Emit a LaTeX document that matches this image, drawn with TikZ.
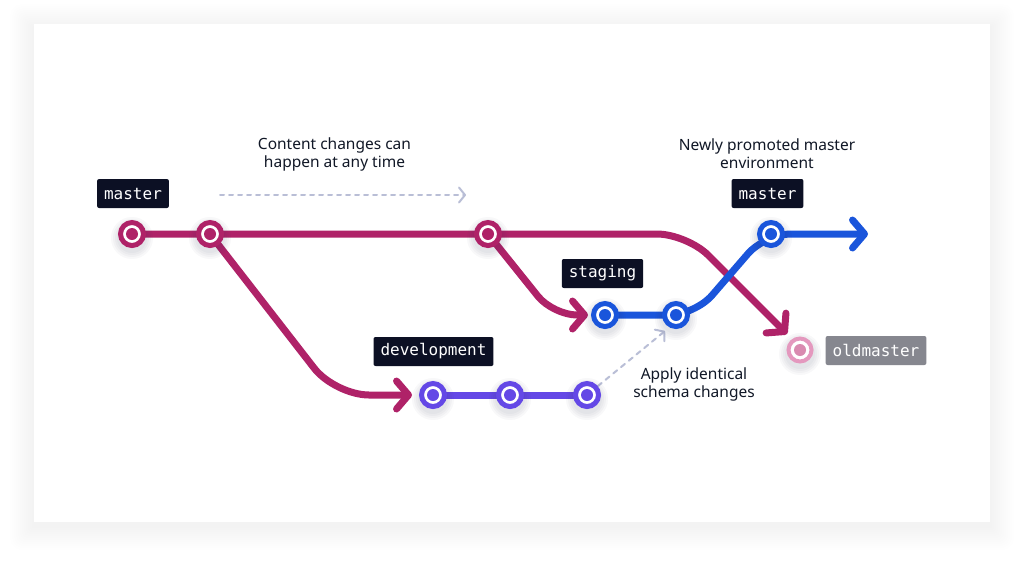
\documentclass[tikz,border=0pt]{standalone}
\usepackage{fontspec}
\setmainfont{Noto Sans}
\newfontfamily\monofont{DejaVu Sans Mono}
\usetikzlibrary{arrows.meta}
\definecolor{mag}{HTML}{AF2268}
\definecolor{blu}{HTML}{1A55DB}
\definecolor{pur}{HTML}{6448E6}
\definecolor{pink}{HTML}{E498BE}
\definecolor{pinkdot}{HTML}{D98AB0}
\definecolor{dark}{HTML}{0C1024}
\definecolor{grayl}{HTML}{86878F}
\definecolor{txt}{HTML}{111827}
\definecolor{hint}{HTML}{B9BED6}
\definecolor{shade}{HTML}{2A3050}
\tikzset{
  branch/.style={line width=7pt, line cap=round, line join=round},
  tipbig/.style={-{Straight Barb[length=12pt,width=28pt,line cap=round,line join=round]}},
  tipsmall/.style={-{Straight Barb[length=6pt,width=15pt,line cap=round,line join=round]}},
  commit/.style={circle, draw=#1, line width=5pt, fill=white, minimum size=23pt, inner sep=0pt,
    path picture={\fill[#1] (path picture bounding box.center) circle (6pt);}},
  tag/.style={fill=#1, text=white, rounded corners=2pt, font=\monofont\fontsize{16}{18}\selectfont,
    minimum height=29pt, inner xsep=7pt, inner ysep=0pt, anchor=center},
  caption/.style={text=txt, align=center, font=\fontsize{15.5}{18}\selectfont},
  hintline/.style={draw=hint, line width=2pt, line cap=round},
  softshade/.style={fill=shade, opacity=#1},
}
\begin{document}
\begin{tikzpicture}[x=1pt,y=-1pt]
\useasboundingbox (0,0) rectangle (1024,565);
\fill[white] (0,0) rectangle (1024,565);
% card shadow
\foreach \i in {1,...,12}
  \fill[softshade=0.004, rounded corners=\i pt] (34-\i*2,24-\i*2+4) rectangle (990+\i*2,522+\i*2+4);
\fill[white] (34,24) rectangle (990,522);

% coordinates
\coordinate (c1) at (687,234);
\coordinate (oldtip) at (787,334);
\coordinate (c2) at (335,395);
\coordinate (devtip) at (412,395);
\coordinate (c3) at (553,315);
\coordinate (stgtip) at (588,315);
\coordinate (c4) at (695,315);
\coordinate (c5) at (765,234);
\coordinate (newtip) at (868,234);
\coordinate (h1) at (220,195);
\coordinate (h2) at (466,195);
\coordinate (h3) at (665,331);

% commit positions
\coordinate (pm1) at (132,234);
\coordinate (pm2) at (210,234);
\coordinate (pm3) at (488,234);
\coordinate (pd1) at (433,395);
\coordinate (pd2) at (510,395);
\coordinate (pd3) at (587,395);
\coordinate (ps1) at (605,315);
\coordinate (ps2) at (676,315);
\coordinate (pn1) at (771,234);
\coordinate (po1) at (800,350);

% magenta lines
\draw[branch, draw=mag, tipbig, rounded corners=30pt] (pm1) -- (c1) -- (oldtip);
\draw[branch, draw=mag, tipbig, rounded corners=34pt] (pm2) -- (c2) -- (devtip);
\draw[branch, draw=mag, tipbig, rounded corners=24pt] (pm3) -- (c3) -- (stgtip);
% purple
\draw[branch, draw=pur] (pd1) -- (pd3);
% blue
\draw[branch, draw=blu, tipbig, rounded corners=26pt] (ps1) -- (c4) -- (c5) -- (newtip);

% hint arrows
\draw[hintline, tipsmall, dash pattern=on 4pt off 5pt] (h1) -- (h2);
\draw[hintline, tipsmall, dash pattern=on 5pt off 5pt, shorten <=14pt] (pd3) -- (h3);

% commit shadows
\foreach \p in {pm1,pm2,pm3,pd1,pd2,pd3,ps1,ps2,pn1,po1}
  \foreach \r in {15,17,19,21}
    \fill[softshade=0.03] ([yshift=-4pt]\p) circle (\r pt);

% commits
\node[commit=mag] (m1) at (pm1) {};
\node[commit=mag] (m2) at (pm2) {};
\node[commit=mag] (m3) at (pm3) {};
\node[commit=pur] (d1) at (pd1) {};
\node[commit=pur] (d2) at (pd2) {};
\node[commit=pur] (d3) at (pd3) {};
\node[commit=blu] (s1) at (ps1) {};
\node[commit=blu] (s2) at (ps2) {};
\node[commit=blu] (n1) at (pn1) {};
\node[commit=pink, line width=4pt, path picture={\fill[pinkdot] (path picture bounding box.center) circle (6pt);}] (o1) at (po1) {};

% tags
\node[tag=dark] (tmaster) at (133,193.5) {master};
\node[tag=dark] (tdev) at (433.5,351.5) {development};
\node[tag=dark] (tstg) at (602.5,273.5) {staging};
\node[tag=dark] (tnew) at (767.5,193.5) {master};
\node[tag=grayl] (told) at (876,350.5) {oldmaster};

% captions
\node[caption] (cap1) at (334.5,154) {Content changes can\\happen at any time};
\node[caption] (cap2) at (767,154) {Newly promoted master\\environment};
\node[caption] (cap3) at (694,384) {Apply identical\\schema changes};
\end{tikzpicture}
\end{document}
